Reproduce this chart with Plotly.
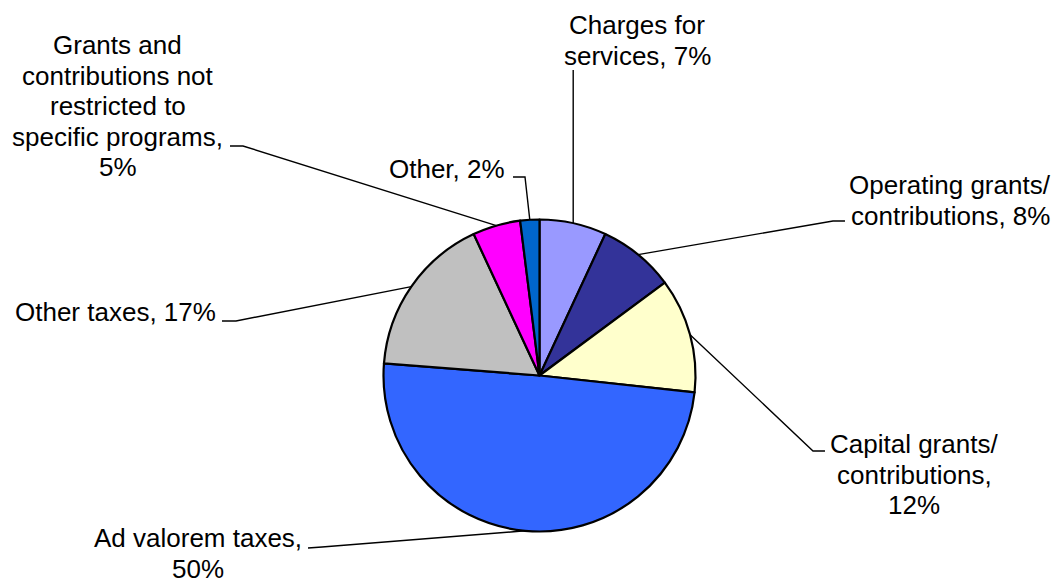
import math
import plotly.graph_objects as go

# Revenue sources, share of total (%)
categories = [
    "Charges for services",
    "Operating grants/ contributions",
    "Capital grants/ contributions",
    "Ad valorem taxes",
    "Other taxes",
    "Grants and contributions not restricted to specific programs",
    "Other",
]
shares = [7, 8, 12, 50, 17, 5, 2]
slice_colors = ["#9999FF", "#333399", "#FFFFCC", "#3366FF", "#C0C0C0", "#FF00FF", "#0066CC"]

# Label text lines (value appended to the last line's template)
label_lines = [
    ["Charges for", "services, {v}%"],
    ["Operating grants/", "contributions, {v}%"],
    ["Capital grants/", "contributions,", "{v}%"],
    ["Ad valorem taxes,", "{v}%"],
    ["Other taxes, {v}%"],
    ["Grants and", "contributions not", "restricted to", "specific programs,", "{v}%"],
    ["Other, {v}%"],
]

W, H = 1057, 580
CX, CY, R = 539.5, 375.5, 156
LINE_GAP = 30.5
FONT = dict(family="Arial, Liberation Sans, sans-serif", size=26, color="black")

# label block: (centre x, first line centre y), leader elbow and tick end (pixels)
label_layout = [
    ((637, 25), None, (None, 70)),
    ((950, 185), (833, 221), (845, 221)),
    ((914, 444), (813, 451), (825, 451)),
    ((197.5, 538), (322, 547), (308, 548)),
    ((115, 312), (236, 321), (222, 321)),
    ((117.5, 45), (243, 146), (230, 146)),
    ((447, 169), (525, 177), (513, 177)),
]


def px(x):
    return x / W


def py(y):
    return 1 - y / H


fig = go.Figure(
    go.Pie(
        values=shares,
        labels=categories,
        sort=False,
        direction="clockwise",
        rotation=0,
        marker=dict(colors=slice_colors, line=dict(color="black", width=2.2)),
        textinfo="none",
        hoverinfo="label+value",
        showlegend=False,
        domain=dict(x=[px(CX - R), px(CX + R)], y=[py(CY + R), py(CY - R)]),
    )
)

total = sum(shares)
cum = 0
annotations = []
shapes = []
for i, v in enumerate(shares):
    mid = (cum + v / 2) / total * 2 * math.pi
    cum += v
    ex = CX + R * math.sin(mid)
    ey = CY - R * math.cos(mid)

    (lx, ly), elbow, tick = label_layout[i]
    for k, line in enumerate(label_lines[i]):
        annotations.append(
            dict(
                x=px(lx), y=py(ly + k * LINE_GAP), xref="paper", yref="paper",
                text=line.format(v=v), showarrow=False, font=FONT,
                xanchor="center", yanchor="middle", borderpad=0,
            )
        )

    pts = [(ex, ey)]
    if elbow is not None:
        pts.append(elbow)
    tx, ty = tick
    pts.append((ex if tx is None else tx, ty))
    path = "M " + " L ".join(f"{px(x):.5f},{py(y):.5f}" for x, y in pts)
    shapes.append(
        dict(type="path", path=path, xref="paper", yref="paper",
             line=dict(color="black", width=1.4))
    )

fig.update_layout(
    width=W,
    height=H,
    autosize=False,
    margin=dict(l=0, r=0, t=0, b=0),
    paper_bgcolor="white",
    plot_bgcolor="white",
    annotations=annotations,
    shapes=shapes,
)

fig.write_html("out.html")
